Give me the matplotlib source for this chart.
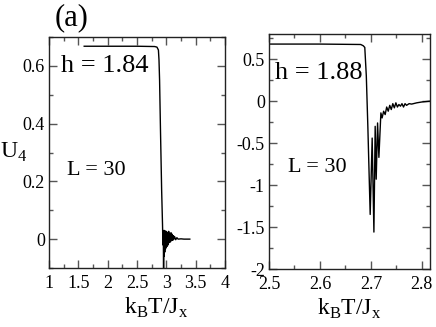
import matplotlib
matplotlib.use("Agg")
import matplotlib.pyplot as plt
from matplotlib.ticker import MultipleLocator, FuncFormatter

plt.rcParams['font.family'] = ['Liberation Serif', 'DejaVu Serif']
plt.rcParams['mathtext.fontset'] = 'custom'
plt.rcParams['mathtext.rm'] = 'Liberation Serif'
plt.rcParams['axes.unicode_minus'] = False

# left panel: h = 1.84
t_left = [1.60, 2.00, 2.50, 2.80, 2.84, 2.865, 2.875, 2.885, 2.90, 2.92, 2.935,
          2.942, 2.948, 2.953, 2.958, 2.963, 2.968, 2.973, 2.978, 2.984, 2.99,
          2.997, 3.004, 3.012, 3.02, 3.03, 3.04, 3.05, 3.06, 3.07, 3.08, 3.09,
          3.10, 3.11, 3.12, 3.13, 3.14, 3.16, 3.18, 3.20, 3.25, 3.30, 3.40]
u_left = [0.668, 0.668, 0.668, 0.667, 0.665, 0.655, 0.62, 0.55, 0.38, 0.17, 0.05,
          -0.02, 0.03, -0.11, 0.02, -0.06, 0.03, -0.045, 0.025, -0.035, 0.028,
          -0.03, 0.026, -0.025, 0.022, -0.02, 0.027, -0.012, 0.02, -0.01, 0.022,
          -0.005, 0.017, -0.004, 0.012, 0.0, 0.009, -0.002, 0.005, 0.0, 0.001, 0.0, 0.0]

# right panel: h = 1.88
t_right = [2.50, 2.60, 2.68, 2.685, 2.688, 2.691, 2.694, 2.6986, 2.7025, 2.7059,
           2.7084, 2.7104, 2.7131, 2.7157, 2.7196, 2.722, 2.725, 2.728, 2.731,
           2.734, 2.737, 2.740, 2.743, 2.746, 2.749, 2.752, 2.755, 2.758, 2.761,
           2.764, 2.767, 2.770, 2.775, 2.78, 2.79, 2.80, 2.816]
u_right = [0.68, 0.68, 0.675, 0.66, 0.64, 0.30, -0.30, -1.35, -0.44, -1.56,
           -0.30, -0.93, -0.26, -0.67, -0.14, -0.20, -0.12, -0.16, -0.07,
           -0.12, -0.05, -0.10, -0.03, -0.08, -0.02, -0.07, -0.04, -0.06, -0.03,
           -0.07, -0.03, -0.05, -0.03, -0.035, -0.02, -0.01, 0.0]

W, H = 436, 327
fig = plt.figure(figsize=(W / 100, H / 100), dpi=100)


def box(l, t, r, b):
    return [l / W, 1 - b / H, (r - l) / W, (b - t) / H]


ax1 = fig.add_axes(box(49, 37, 225, 268))
ax2 = fig.add_axes(box(269, 34, 430, 269))

fmt = FuncFormatter(lambda v, p: '%g' % round(v, 3))

for ax in (ax1, ax2):
    ax.tick_params(which='both', direction='in', top=True, right=True,
                   color='#555555', labelsize=13)
    ax.tick_params(which='major', length=6, width=1)
    ax.tick_params(which='minor', length=3, width=1)
    ax.tick_params(axis='x', pad=5)
    ax.tick_params(axis='y', pad=3)
    for s in ax.spines.values():
        s.set_linewidth(1.0)
        s.set_color('#222222')
    ax.xaxis.set_major_formatter(fmt)
    ax.yaxis.set_major_formatter(fmt)
    ax.set_xlabel(r'k$_\mathrm{B}$T/J$_\mathrm{x}$', fontsize=17)

ax1.plot(t_left, u_left, color='black', lw=1.0)
ax1.set_xlim(1, 4)
ax1.set_ylim(-0.1, 0.7)
ax1.xaxis.set_major_locator(MultipleLocator(0.5))
ax1.xaxis.set_minor_locator(MultipleLocator(0.25))
ax1.yaxis.set_major_locator(MultipleLocator(0.2))
ax1.yaxis.set_minor_locator(MultipleLocator(0.1))
ax1.set_ylabel(r'U$_\mathrm{4}$', fontsize=17, rotation=0, va='center', ha='center')
ax1.yaxis.set_label_coords(-0.2, 0.5)
ax1.xaxis.set_label_coords(0.61, -0.12)
ax1.text(0.07, 0.875, 'h = 1.84', transform=ax1.transAxes, fontsize=19,
         va='center', ha='left')
ax1.text(0.105, 0.42, 'L = 30', transform=ax1.transAxes, fontsize=16,
         va='center', ha='left')

ax2.plot(t_right, u_right, color='black', lw=1.0)
ax2.set_xlim(2.5, 2.816)
ax2.set_ylim(-2, 0.8)
ax2.xaxis.set_major_locator(MultipleLocator(0.1))
ax2.xaxis.set_minor_locator(MultipleLocator(0.05))
ax2.yaxis.set_major_locator(MultipleLocator(0.5))
ax2.yaxis.set_minor_locator(MultipleLocator(0.25))
ax2.xaxis.set_label_coords(0.5, -0.12)
ax2.text(0.035, 0.835, 'h = 1.88', transform=ax2.transAxes, fontsize=19,
         va='center', ha='left')
ax2.text(0.115, 0.43, 'L = 30', transform=ax2.transAxes, fontsize=16,
         va='center', ha='left')

fig.text(72 / W, 1 - 18 / H, '(a)', fontsize=22, ha='center', va='center')

fig.savefig('out.png', dpi=100)
